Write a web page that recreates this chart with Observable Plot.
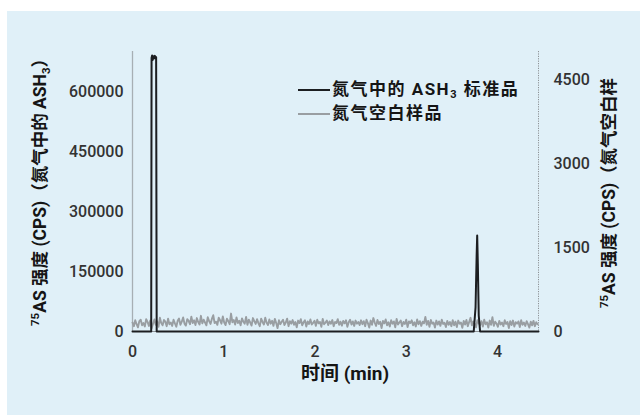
<!DOCTYPE html>
<html>
<head>
<meta charset="utf-8">
<script src="https://cdn.jsdelivr.net/npm/d3@7"></script>
<script src="https://cdn.jsdelivr.net/npm/@observablehq/plot@0.6"></script>
<style>
  html, body { margin: 0; padding: 0; background: #ffffff; width: 640px; height: 415px; overflow: hidden; }
  #panel { position: absolute; left: 7px; top: 11px; width: 633px; height: 404px; background: #e0f0f8; }
  #panel svg { position: absolute; left: 0; top: 0; }
  .lg { position: absolute; font-family: Roboto, "Noto Sans CJK SC", sans-serif; font-size: 17px; font-weight: 700; color: #151515; letter-spacing: 1.5px; white-space: nowrap; }
  .lg .sw { display: inline-block; width: 32px; height: 2px; vertical-align: middle; margin-right: 2px; position: relative; top: -1px; }
  .lg sub { font-size: 11px; vertical-align: -3px; line-height: 0; }
</style>
</head>
<body>
<div id="panel"></div>
<script>
// ---- data ----
const xTicks = [0, 1, 2, 3, 4];
const yLeftTicks = [0, 150000, 300000, 450000, 600000];
const yRightTicks = [0, 1500, 3000, 4500];
const xMax = 4.45;
const yLeftMax = 700000;
const yRightMax = 5000;

// ASH3 standard in nitrogen (left axis)
const stdTime  = [0, 0.205, 0.209, 0.215, 0.222, 0.228, 0.236, 0.245, 0.254, 0.259, 0.265, 0.28,
                  3.74, 3.76, 3.772, 3.778, 3.785, 3.795, 3.81, 4.45];
const stdValue = [0, 0, 684000, 690000, 679000, 688000, 683000, 689000, 682000, 686000, 0, 0,
                  0, 60000, 190000, 240000, 170000, 40000, 0, 0];

// nitrogen blank (right axis), sampled every 0.015 min
const blankStart = 0;
const blankStep = 0.015;
const blankValue = [
  160, 95, 200, 130, 75, 185, 210, 110, 150, 90, 220, 170, 100, 195, 60, 140, 215, 120, 180, 85,
  245, 150, 110, 205, 175, 95, 230, 130, 160, 100, 210, 145, 85, 190,
  230, 120, 175, 250, 140, 105, 220, 190, 130, 265, 150, 200, 115, 240, 170, 125, 280, 145, 210, 160,
  110, 255, 185, 135, 225, 290, 150, 175, 120, 245, 200, 140, 270, 160, 115, 230, 185, 130, 320, 165,
  205, 125, 250, 150, 190, 110, 235, 175, 140, 260, 120, 210, 160, 105, 240, 185, 135, 220, 150, 95,
  230, 170, 125, 245, 155, 115, 215,
  140, 190, 100, 225, 150, 60, 200, 130, 175, 210, 115, 160, 230, 95, 185, 140, 205, 120, 170, 75,
  195, 150, 220, 110, 165, 200, 90, 180, 135, 215, 125, 155, 190, 100, 210, 145, 170, 85, 225, 130,
  160, 195, 115, 180, 140, 205, 95, 170, 150, 220, 120, 175, 105, 190, 145, 200, 85, 165, 210, 125,
  180, 100, 195, 140, 170, 115, 200,
  130, 185, 95, 210, 150, 70, 195, 120, 240, 160, 100, 205, 135, 175, 60, 190, 145, 215, 110, 165,
  90, 200, 140, 180, 75, 225, 125, 160, 195, 95, 170, 135, 210, 80, 180, 150, 200, 110, 165, 90,
  215, 130, 185, 100, 175, 145, 260, 120, 190, 85, 205, 140, 160, 70, 195, 125, 180, 100, 210, 135,
  155, 80, 190, 120, 170, 95, 200,
  110, 175, 80, 195, 140, 160, 65, 190, 125, 205, 95, 170, 245, 110, 180, 135, 75, 200, 150, 115,
  185, 90, 210, 130, 165, 70, 195, 120, 255, 100, 175, 140, 85, 190, 125, 160, 95, 200, 135, 170,
  60, 185, 115, 195, 90, 165, 140, 180, 80, 200, 120, 160, 100, 185, 130, 70, 175, 110, 190, 95,
  165, 130
];

const seriesNames = ["氮气中的 ASH₃ 标准品", "氮气空白样品"];
const seriesColors = ["#1c1e21", "#999ea2"];

// ---- tables ----
const k = yLeftMax / yRightMax;
const std = stdTime.map((t, i) => ({t, v: stdValue[i]}));
const blank = blankValue.map((v, i) => ({t: blankStart + i * blankStep, v}));

const W = 633, H = 404;
const chart = Plot.plot({
  width: W, height: H,
  marginTop: 40, marginBottom: 84, marginLeft: 125, marginRight: 102,
  style: {background: "transparent", fontFamily: "Roboto, 'Noto Sans CJK SC', sans-serif", fontSize: "16px", color: "#333", fontWeight: 500},
  x: {domain: [0, xMax], label: null},
  y: {domain: [0, yLeftMax], label: null},
  marks: [
    Plot.ruleX([0], {stroke: "#a7afb4", strokeWidth: 1.3}),
    Plot.ruleX([xMax], {stroke: "#8d9296", strokeWidth: 1, strokeDasharray: "1.2,1.2"}),
    Plot.ruleY([0], {stroke: "#8d9296", strokeWidth: 1}),
    Plot.axisX(xTicks, {tickSize: 0, tickPadding: 14, label: null, tickFormat: d => String(d)}),
    Plot.axisY(yLeftTicks, {anchor: "left", tickSize: 0, tickPadding: 9, label: null, tickFormat: d3.format("d")}),
    Plot.axisY(yRightTicks.map(v => v * k), {anchor: "right", tickSize: 0, tickPadding: 15, label: null, tickFormat: d => String(Math.round(d / k))}),
    Plot.line(blank, {x: "t", y: d => d.v * k, stroke: seriesColors[1], strokeWidth: 1.9}),
    Plot.line(std, {x: "t", y: "v", stroke: seriesColors[0], strokeWidth: 2})
  ]
});
document.getElementById("panel").appendChild(chart);

// axis titles
const svg = d3.select(chart);
const titleFont = "Roboto, 'Noto Sans CJK SC', sans-serif";
function yTitle(x, y, parts) {
  const t = svg.append("text")
    .attr("transform", `translate(${x},${y}) rotate(-90)`)
    .attr("text-anchor", "middle")
    .attr("font-family", titleFont)
    .attr("font-size", 17.5)
    .attr("font-weight", 700)
    .attr("fill", "#151515");
  parts.forEach(p => {
    const s = t.append("tspan").text(p.text);
    if (p.size) s.attr("font-size", p.size);
    if (p.dy) s.attr("dy", p.dy);
  });
}
yTitle(39, 177, [
  {text: "75", size: 11.5, dy: -7}, {text: "AS 强度 (CPS)（氮气中的 ASH", dy: 7},
  {text: "3", size: 11.5, dy: 4}, {text: "）", dy: -4}
]);
yTitle(608, 182, [
  {text: "75", size: 11.5, dy: -7}, {text: "AS 强度 (CPS)（氮气空白样", dy: 7}
]);
svg.append("text")
  .attr("x", 338).attr("y", 369)
  .attr("text-anchor", "middle")
  .attr("font-family", titleFont)
  .attr("font-size", 19).attr("font-weight", 700)
  .attr("fill", "#151515")
  .text("时间 (min)");

// legend
const panel = document.getElementById("panel");
const tops = [64, 88];
seriesNames.forEach((name, i) => {
  const d = document.createElement("div");
  d.className = "lg";
  d.style.left = "291px";
  d.style.top = tops[i] + "px";
  const sw = document.createElement("span");
  sw.className = "sw";
  sw.style.background = seriesColors[i];
  d.appendChild(sw);
  const m = name.match(/^(.*ASH)₃(.*)$/);
  if (m) {
    d.appendChild(document.createTextNode(m[1]));
    const sb = document.createElement("sub"); sb.textContent = "3"; d.appendChild(sb);
    d.appendChild(document.createTextNode(m[2]));
  } else {
    d.appendChild(document.createTextNode(name));
  }
  panel.appendChild(d);
});
</script>
</body>
</html>
